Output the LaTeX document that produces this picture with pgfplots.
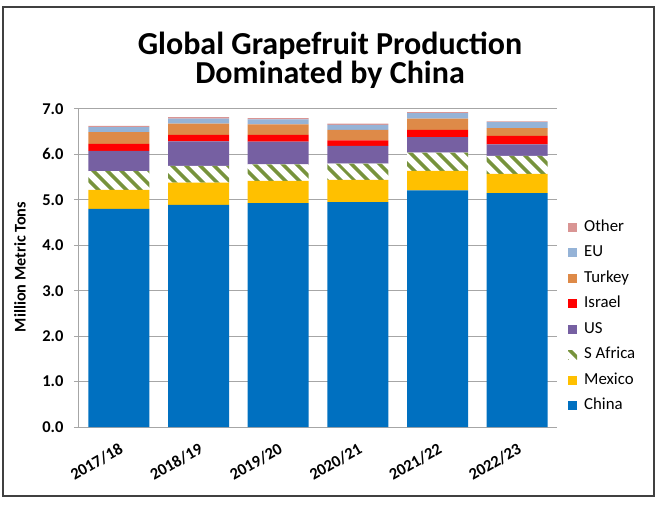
\documentclass[border=0pt]{standalone}
\usepackage{pgfplots}
\pgfplotsset{compat=1.18}
\usepackage{fontspec}
\setmainfont{Carlito}
\usetikzlibrary{patterns.meta}

\definecolor{china}{HTML}{0070C0}
\definecolor{mexico}{HTML}{FFC000}
\definecolor{safrica}{HTML}{77933C}
\definecolor{us}{HTML}{7660A2}
\definecolor{israel}{HTML}{FF0000}
\definecolor{turkey}{HTML}{DE8A48}
\definecolor{eu}{HTML}{95B3D7}
\definecolor{other}{HTML}{D99594}
\definecolor{gridgray}{HTML}{A6A6A6}

% million metric tons
\pgfplotstableread{
x China Mexico SAfrica US Israel Turkey EU Other
0 4.80 0.42 0.41 0.45 0.15 0.26 0.11 0.03
1 4.89 0.49 0.37 0.54 0.14 0.25 0.11 0.03
2 4.93 0.49 0.36 0.50 0.15 0.23 0.11 0.03
3 4.95 0.49 0.36 0.39 0.12 0.23 0.11 0.03
4 5.21 0.43 0.40 0.34 0.16 0.25 0.12 0.02
5 5.15 0.42 0.40 0.25 0.19 0.17 0.13 0.02
}\prod

\begin{document}
\begin{tikzpicture}[x=1pt,y=1pt]
\useasboundingbox (-79,-79) rectangle (581,427);
\draw[line width=1.4pt, black!75] (-76,-69) rectangle (575,420);
\node[font=\bfseries\fontsize{32}{29}\selectfont, align=center, anchor=base]
  at (251,343) {Global Grapefruit Production\\Dominated by China};
\node[font=\bfseries\fontsize{16.3}{18}\selectfont, rotate=90] at (-59,160) {Million Metric Tons};
\begin{axis}[
  at={(0,0)}, anchor=south west,
  scale only axis,
  width=478pt, height=318pt,
  ybar stacked,
  bar width=61pt,
  xmin=-0.5, xmax=5.5,
  ymin=0, ymax=7,
  ytick={0,1,...,7},
  axis lines=left,
  axis line style={gridgray, line width=1pt, -},
  ymajorgrids,
  grid style={gridgray, line width=1pt},
  major tick length=5pt,
  xtick=data,
  xtick style={draw=none},
  ytick style={gridgray, line width=1pt},
  tick align=outside,
  xticklabels={2017/18,2018/19,2019/20,2020/21,2021/22,2022/23},
  xticklabel style={rotate=30, anchor=north east, font=\bfseries\fontsize{16.5}{18}\selectfont, xshift=-2pt, yshift=-5pt},
  yticklabel style={font=\bfseries\fontsize{16.5}{18}\selectfont, xshift=-7pt},
  /pgf/number format/assume math mode=true,
  /pgf/number format/.cd, fixed, fixed zerofill, precision=1, /pgfplots/.cd,
  reverse legend,
  legend style={draw=none, fill=none, at={(1.023,0.655)}, anchor=north west,
    font=\fontsize{16.8}{18}\selectfont, row sep=9pt, column sep=6pt, inner sep=0pt,
    nodes={text height=11.5pt, text depth=3pt, inner sep=1pt}},
  legend cell align=left,
  legend image code/.code={\path[#1] (0pt,-4.5pt) rectangle (9pt,4.5pt);},
]
\addplot[fill=china, draw=none] table[x=x, y=China] {\prod};
\addplot[fill=mexico, draw=none] table[x=x, y=Mexico] {\prod};
\addplot[fill=white, draw=none, postaction={pattern={Lines[angle=-45, distance=10.5pt, line width=4pt]}, pattern color=safrica}] table[x=x, y=SAfrica] {\prod};
\addplot[fill=us, draw=none] table[x=x, y=US] {\prod};
\addplot[fill=israel, draw=none] table[x=x, y=Israel] {\prod};
\addplot[fill=turkey, draw=none] table[x=x, y=Turkey] {\prod};
\addplot[fill=eu, draw=none] table[x=x, y=EU] {\prod};
\addplot[fill=other, draw=none] table[x=x, y=Other] {\prod};
\legend{China,Mexico,S Africa,US,Israel,Turkey,EU,Other}
\end{axis}
\end{tikzpicture}
\end{document}
